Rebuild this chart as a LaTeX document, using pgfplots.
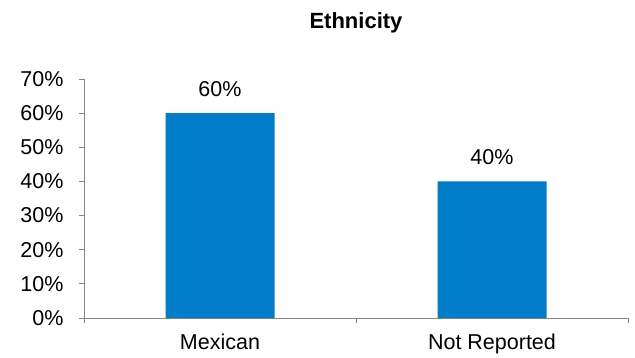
\documentclass[border=0pt]{standalone}
\usepackage{pgfplots}
\pgfplotsset{compat=1.18}
\usepackage{fontspec}
\setmainfont{Liberation Sans}
\definecolor{barblue}{RGB}{0,125,200}
\definecolor{axgray}{RGB}{134,134,134}
\begin{document}
\begin{tikzpicture}
\useasboundingbox (0,0) rectangle (635bp,358bp);
\begin{axis}[
  at={(84bp,40bp)}, anchor=south west,
  scale only axis,
  width=544bp, height=239bp,
  xmin=-0.5, xmax=1.5,
  ymin=0, ymax=70,
  axis lines*=left,
  axis line style={axgray, line width=0.8bp},
  every tick/.style={axgray, line width=0.8bp},
  tick align=outside,
  major tick length=5bp,
  xtick={-0.5,0.5,1.5},
  xticklabels={Mexican,Not Reported},
  x tick label as interval,
  ytick={0,10,...,70},
  yticklabel={\pgfmathprintnumber{\tick}\%},
  /pgf/number format/assume math mode=true,
  tick label style={font=\fontsize{21.5bp}{26bp}\selectfont, black},
  xticklabel style={yshift=-7bp},
  yticklabel style={xshift=-12bp},
  title={\textbf{Ethnicity}},
  title style={font=\fontsize{22bp}{26bp}\selectfont, anchor=center, at={(0.5,1)}, yshift=50bp},
  ybar, bar width=109bp, bar shift=0pt,
  nodes near coords={\pgfmathprintnumber{\pgfplotspointmeta}\%},
  nodes near coords style={font=\fontsize{21.5bp}{26bp}\selectfont, black, yshift=13bp, /pgf/number format/assume math mode=true},
  clip=false,
]
\addplot[fill=barblue, draw=none] coordinates {(0,60) (1,40)};
\end{axis}
\end{tikzpicture}
\end{document}
